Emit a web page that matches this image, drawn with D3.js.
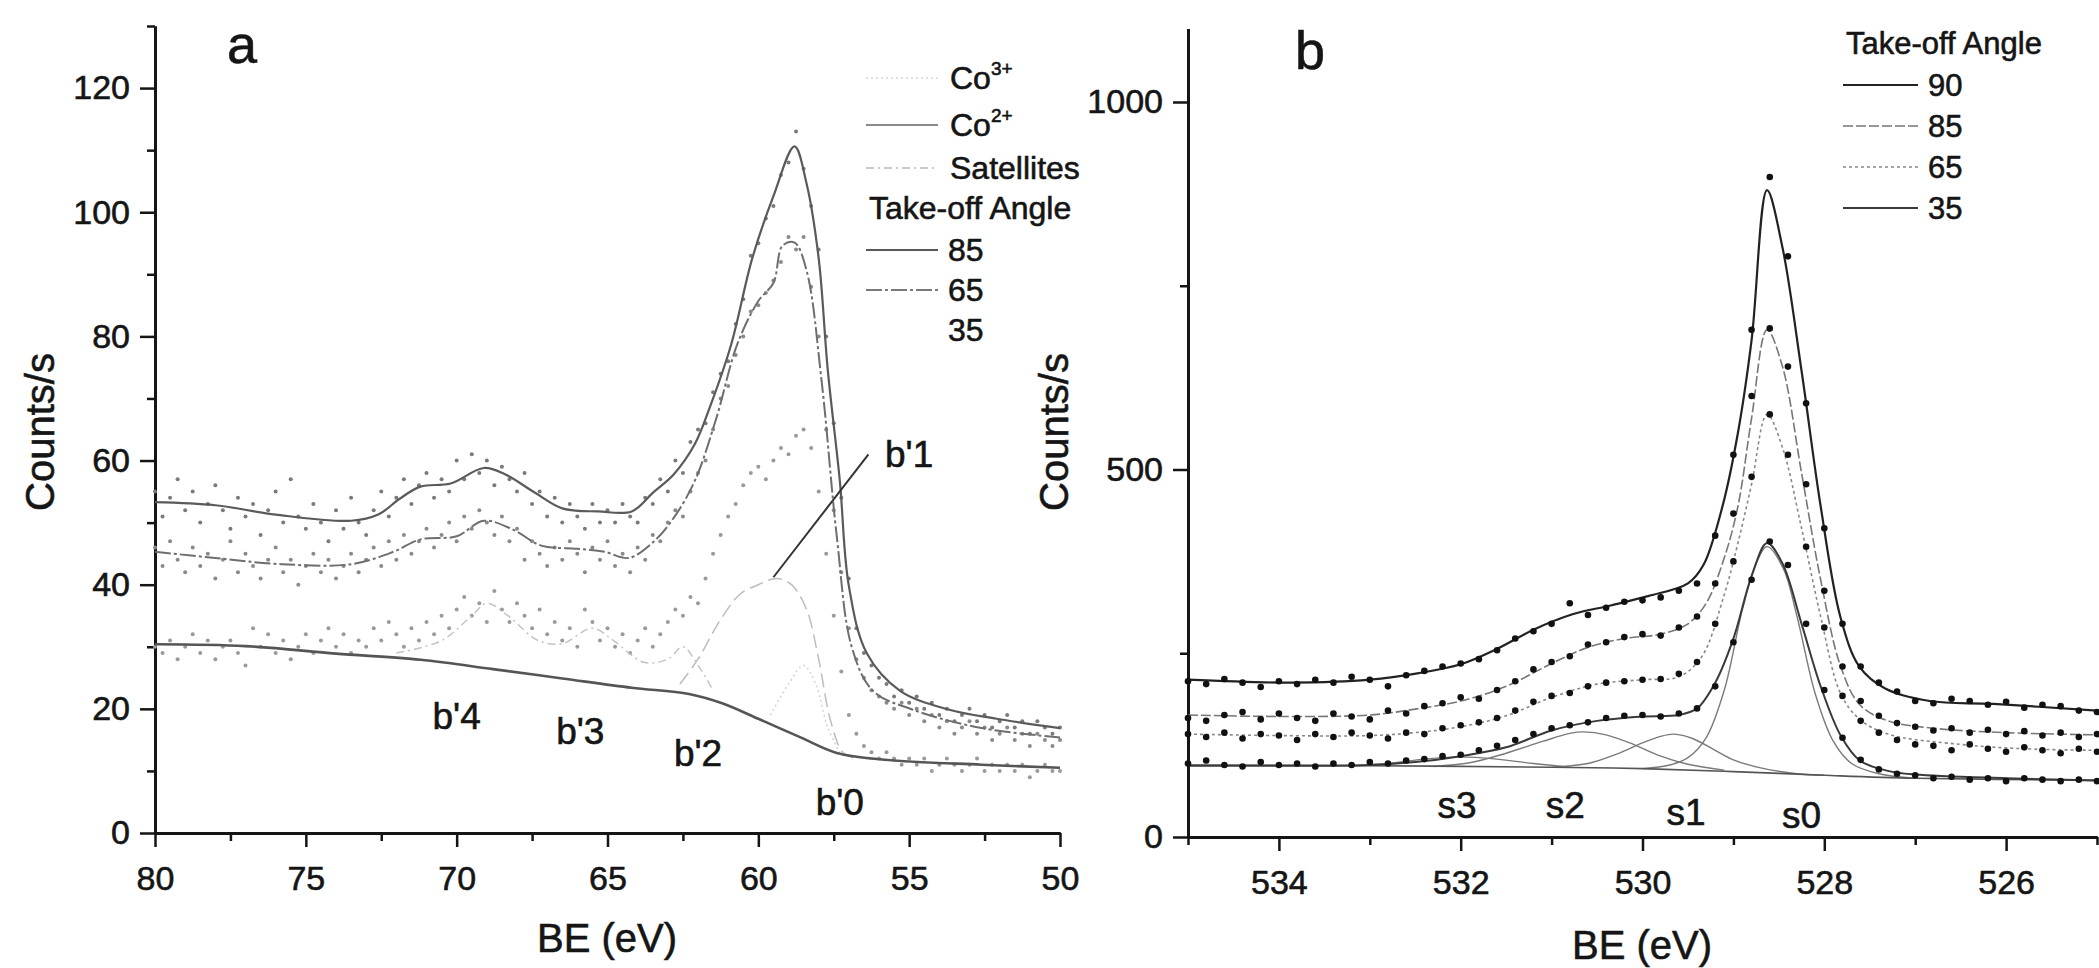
<!DOCTYPE html>
<html>
<head>
<meta charset="utf-8">
<script src="https://cdn.jsdelivr.net/npm/d3@7"></script>
<style>
  body { margin: 0; background: #fff; }
  svg { font-family: "Liberation Sans", Arial, sans-serif; }
  svg text { stroke: #151515; stroke-width: 0.6px; }
</style>
</head>
<body>
<svg id="chart" width="2099" height="968"></svg>
<script>
// ---------- panel a : Co 3p region ----------
const BE_A = [80,79.75,79.5,79.25,79,78.75,78.5,78.25,78,77.75,77.5,77.25,77,76.75,76.5,76.25,76,75.75,75.5,75.25,
  75,74.75,74.5,74.25,74,73.75,73.5,73.25,73,72.75,72.5,72.25,72,71.75,71.5,71.25,71,70.75,70.5,70.25,
  70,69.75,69.5,69.25,69,68.75,68.5,68.25,68,67.75,67.5,67.25,67,66.75,66.5,66.25,66,65.75,65.5,65.25,
  65,64.75,64.5,64.25,64,63.75,63.5,63.25,63,62.75,62.5,62.25,62,61.75,61.5,61.25,61,60.75,60.5,60.25,
  60,59.75,59.5,59.25,59,58.75,58.5,58.25,58,57.75,57.5,57.25,57,56.75,56.5,56.25,56,55.75,55.5,55.25,
  55,54.75,54.5,54.25,54,53.75,53.5,53.25,53,52.75,52.5,52.25,52,51.75,51.5,51.25,51,50.75,50.5,50.25,50];

const DOTS_A85 = [55,51,54,57,52,55,50,53,56,52,49,54,51,53,48,52,55,50,57,51,
  49,53,50,47,52,49,54,50,48,52,55,51,54,57,53,56,58,54,57,55,
  60,57,61,58,60,56,59,57,55,58,53,55,51,54,50,53,51,49,53,50,
  52,50,53,51,50,54,53,57,55,60,58,63,65,66,71,74,76,82,86,93,
  95,99,101,106,108,113,107,101,94,80,66,54,41,33,29,27,25,24,22,23,
  21,22,20,21,19,20,18,19,20,18,19,17,18,19,17,18,16,18,17,16,17];

const DOTS_A65 = [46,43,47,44,42,46,43,45,41,44,47,42,45,43,41,44,46,42,44,40,
  43,45,42,44,41,43,45,42,44,46,43,47,44,48,45,47,49,46,48,50,
  47,51,49,52,50,48,51,47,49,44,47,45,43,46,44,47,45,42,46,44,
  47,43,45,42,46,44,48,47,50,52,51,55,58,60,65,70,72,77,80,84,
  85,87,89,92,96,94,96,88,80,65,52,42,33,28,25,23,22,21,20,21,
  19,20,18,19,17,18,16,17,18,16,17,15,16,17,15,16,14,16,15,14,15];

const DOTS_A35 = [30,29,31,28,30,32,29,31,28,30,31,29,27,33,30,32,29,31,28,30,
  32,29,31,33,30,32,29,31,30,33,31,34,32,30,33,31,34,32,35,33,
  36,38,35,37,34,39,36,34,37,35,33,36,32,34,31,33,30,36,34,31,
  33,30,32,29,31,33,30,32,34,36,35,38,37,41,45,48,51,53,56,58,
  59,57,60,62,61,64,65,62,55,45,35,26,19,16,14,13,12,13,12,11,
  12,11,12,10,11,12,11,10,11,12,10,11,10,11,10,11,9,10,11,10,10];

const FIT_A85 = [[80,53.3],[78,52.8],[76,51.3],[73.5,50.3],[72.6,51.3],[71.9,53.8],[71.2,55.8],[70.2,56.3],
  [69.1,58.8],[68.4,57.8],[67.4,54.8],[66.5,52.3],[65.3,51.8],[64.2,51.8],[63.5,54.8],[62.8,57.8],
  [62.1,62.7],[61.6,68.7],[60.9,78.7],[60.2,92.6],[59.5,102.6],[58.8,110.6],[58.4,104.6],[58.0,92.6],
  [57.7,74.7],[57.3,56.8],[57.0,39.8],[56.4,28.9],[55.3,22.9],[53.7,19.9],[52.1,18.4],[50,16.9]];

const FIT_A65 = [[80,45.3],[78,44.3],[75.8,43.3],[73.5,43.3],[72.1,45.3],[71.2,47.3],[70,47.8],[69.1,50.3],
  [68.1,48.8],[67.2,46.3],[66,45.8],[65.1,45.3],[64.3,44.3],[63.5,46.8],[62.8,50.8],[62.1,56.8],
  [61.4,66.7],[60.7,78.7],[60,85.7],[59.5,88.6],[59.2,94.6],[58.8,95.1],[58.4,90.6],[57.9,72.7],
  [57.4,47.8],[56.9,29.9],[56.2,22.9],[54.9,19.9],[52.6,16.9],[50,15.4]];

const BG_A = [[80,30.4],[77,30.1],[74,28.9],[71.2,27.9],[68.8,26.4],[66.5,24.9],[64.2,23.4],[62.3,22.4],
  [61.2,20.9],[60,18.4],[58.6,15.4],[57.4,12.9],[55.8,11.8],[52.6,11],[50,10.5]];

// faint components of the 35 deg fit
const CO2_A = [[62.6,24],[62,28],[61.3,34],[60.6,38.5],[60,40],[59.4,41],[58.9,40],[58.4,36],[58,28],[57.6,18],[57.2,13],[56.8,12]];
const CO3_A = [[59.6,19],[59,24],[58.5,27],[58.1,24],[57.7,17],[57.3,13]];
const SAT_A = [[72,29],[70.5,31],[69.5,35],[69,37],[68.3,35],[67.3,31],[66.5,30.5],[65.5,33],[64.8,31],
  [63.8,27.5],[63,28],[62.5,30],[62,27],[61.5,23]];

const PEAKS_A = [["b'4",70.0,18.8],["b'3",65.9,16.4],["b'2",62.0,12.9],["b'0",57.3,5.0],["b'1",55.0,61.0]];
const POINTER_A = [[59.5,41.2],[56.35,61.0]];

const TICKS_AX = [80,75,70,65,60,55,50];
const MINOR_AX = [77.5,72.5,67.5,62.5,57.5,52.5];
const TICKS_AY = [0,20,40,60,80,100,120];
const MINOR_AY = [10,30,50,70,90,110,130];

// ---------- panel b : O 1s region ----------
const BE_B = [535,534.8,534.6,534.4,534.2,534,533.8,533.6,533.4,533.2,
  533,532.8,532.6,532.4,532.2,532,531.8,531.6,531.4,531.2,
  531,530.8,530.6,530.4,530.2,530,529.8,529.6,529.4,529.2,
  529,528.8,528.6,528.4,528.2,528,527.8,527.6,527.4,527.2,
  527,526.8,526.6,526.4,526.2,526,525.8,525.6,525.4,525.2,525];

const DOTS_B90 = [212,208,215,210,204,212,208,214,210,218,
  214,205,220,226,232,236,242,254,270,280,
  290,318,302,312,320,322,326,335,345,410,
  520,690,898,790,590,420,290,232,210,198,
  185,182,188,185,180,184,176,180,178,172,170];

const DOTS_B85 = [162,158,166,170,160,168,162,158,168,164,
  160,172,168,178,182,190,188,200,212,228,
  238,246,262,265,272,276,274,285,300,345,
  440,600,692,640,480,335,232,185,165,155,
  150,145,148,142,146,140,144,138,142,136,140];

const DOTS_B65 = [140,136,142,134,140,138,132,140,136,142,
  138,134,142,140,148,152,156,162,172,184,
  192,196,205,210,212,214,215,222,238,290,
  375,490,575,520,395,285,192,158,142,132,
  126,124,118,126,120,116,122,118,114,120,116];

const DOTS_B35 = [100,104,98,96,102,98,100,96,100,98,
  102,100,104,106,110,112,118,124,132,140,
  148,152,156,162,165,166,164,168,175,205,
  265,350,402,370,290,200,135,105,92,86,
  84,80,82,78,80,76,80,78,76,78,76];

const FIT_B90 = [[535,214],[533.86,210],[533,214],[532.46,223],[532,235],[531.6,256],[531.2,282],[530.77,303],
  [530.35,315],[529.93,328],[529.5,345],[529.33,370],[529.12,450],[528.95,550],[528.8,676],[528.63,880],
  [528.46,802],[528.25,634],[528.04,450],[527.82,298],[527.61,231],[527.33,202],[526.84,185],[526.14,181],[525,172]];
const FIT_B85 = [[535,166],[534,164],[533,166],[532.5,174],[532,185],[531.5,205],[531,236],[530.6,258],
  [530.2,270],[529.8,276],[529.5,290],[529.3,318],[529.1,380],[528.95,450],[528.8,570],[528.63,690],
  [528.46,640],[528.25,495],[528.04,350],[527.82,232],[527.61,180],[527.3,158],[526.8,148],[526,142],[525,139]];
const FIT_B65 = [[535,140],[534,138],[533,138],[532.5,142],[532,150],[531.5,165],[531,190],[530.5,208],
  [530,214],[529.6,218],[529.35,245],[529.1,330],[528.95,400],[528.8,480],[528.63,575],[528.46,530],
  [528.25,420],[528.04,300],[527.82,195],[527.61,160],[527.3,140],[526.5,126],[525.8,120],[525,118]];
const FIT_B35 = [[535,97],[534,97],[533,98],[532.5,102],[532,110],[531.5,122],[531,145],[530.5,158],
  [530,164],[529.6,166],[529.4,175],[529.2,210],[529,270],[528.8,355],[528.63,400],[528.46,372],
  [528.25,290],[528.04,205],[527.82,138],[527.61,104],[527.3,90],[527,85],[526,80],[525,77]];

const BG_B = [[535,98],[533,97],[531,95],[530,93],[529,89],[528,84],[527,80],[525,77]];
const S0_B = [[530,93],[529.7,98],[529.5,108],[529.3,135],[529.1,200],[528.9,310],[528.75,372],[528.63,395],
  [528.45,365],[528.3,300],[528.1,195],[527.9,130],[527.7,100],[527.4,86],[527,80]];
const S1_B = [[531,95],[530.6,100],[530.3,112],[530,128],[529.8,137],[529.65,140],[529.45,134],[529.2,118],
  [529,105],[528.7,94],[528.3,86],[528,84]];
const S2_B = [[532.3,96],[531.9,101],[531.5,114],[531.1,130],[530.8,141],[530.65,143],[530.4,139],[530.1,126],
  [529.8,110],[529.5,99],[529.1,91]];
const S3_B = [[533.2,97],[532.8,100],[532.4,106],[532,109],[531.6,106],[531.2,100],[530.8,95]];

const PEAKS_B = [["s3",532.04,43],["s2",530.85,43],["s1",529.52,34],["s0",528.25,30]];

const TICKS_BX = [534,532,530,528,526];
const MINOR_BX = [535,533,531,529,527,525];
const TICKS_BY = [0,500,1000];
const MINOR_BY = [250,750];

const ANGLES_A = ["85","65","35"];
const ANGLES_B = ["90","85","65","35"];

// ---------- drawing ----------
const svg = d3.select('#chart');
const ink = '#151515';

const xA = d3.scaleLinear().domain([80, 50]).range([155, 1060]);
const yA = d3.scaleLinear().domain([0, 130]).range([833, 26]);
const xB = d3.scaleLinear().domain([535, 525]).range([1188, 2097]);
const yB = d3.scaleLinear().domain([0, 1100]).range([837, 28.5]);

// axes with major + minor ticks, all pointing outward
function drawAxes(x, y, o) {
  const gx = svg.append('g').attr('transform', `translate(0,${y.range()[0]})`);
  gx.call(d3.axisBottom(x).tickValues(o.xMajor).tickSize(14).tickSizeOuter(0).tickPadding(19).tickFormat(d3.format('d')));
  const gxm = svg.append('g').attr('transform', `translate(0,${y.range()[0]})`);
  gxm.call(d3.axisBottom(x).tickValues(o.xMinor).tickSize(8).tickSizeOuter(0).tickFormat(''));

  const gy = svg.append('g').attr('transform', `translate(${x.range()[0]},0)`);
  gy.call(d3.axisLeft(y).tickValues(o.yMajor).tickSize(15).tickSizeOuter(0).tickPadding(10).tickFormat(d3.format('d')));
  const gym = svg.append('g').attr('transform', `translate(${x.range()[0]},0)`);
  gym.call(d3.axisLeft(y).tickValues(o.yMinor).tickSize(8).tickSizeOuter(0).tickFormat(''));

  [gx, gxm, gy, gym].forEach(g => {
    g.select('.domain').attr('stroke', ink).attr('stroke-width', 3);
    g.selectAll('.tick line').attr('stroke', ink).attr('stroke-width', 2.5);
    g.selectAll('.tick text').attr('fill', ink).style('font-size', '34px');
  });
}

drawAxes(xA, yA, {xMajor: TICKS_AX, xMinor: MINOR_AX, yMajor: TICKS_AY, yMinor: MINOR_AY});
drawAxes(xB, yB, {xMajor: TICKS_BX, xMinor: MINOR_BX, yMajor: TICKS_BY, yMinor: MINOR_BY});

// axis titles and panel letters
function label(txt, x, y, size, rot) {
  return svg.append('text')
    .attr('transform', `translate(${x},${y})` + (rot ? ` rotate(${rot})` : ''))
    .attr('text-anchor', 'middle').attr('dy', '0.35em')
    .style('font-size', size + 'px').attr('fill', ink).text(txt);
}
label('BE (eV)', 607, 938, 40);
label('BE (eV)', 1642, 945, 40);
label('Counts/s', 40, 432, 40, -90);
label('Counts/s', 1054, 432, 40, -90);
label('a', 242, 44, 54);
label('b', 1310, 50, 54);

// ---- panel a marks ----
const lineA = d3.line().x(d => xA(d[0])).y(d => yA(d[1])).curve(d3.curveCatmullRom.alpha(0.5));
const gA = svg.append('g');

function dotsA(vals, color) {
  gA.append('g').selectAll('circle')
    .data(vals.map((v, i) => [BE_A[i], v]))
    .join('circle')
      .attr('cx', d => xA(d[0]))
      .attr('cy', d => yA(d[1]))
      .attr('r', 2)
      .attr('fill', color);
}
dotsA(DOTS_A35, '#9a9a9a');
dotsA(DOTS_A65, '#8a8a8a');
dotsA(DOTS_A85, '#7a7a7a');

gA.append('path').attr('d', lineA(SAT_A)).attr('fill', 'none')
  .attr('stroke', '#c4c4c4').attr('stroke-width', 1.5).attr('stroke-dasharray', '8,4,2,4');
gA.append('path').attr('d', lineA(CO3_A)).attr('fill', 'none')
  .attr('stroke', '#d4d4d4').attr('stroke-width', 1.5).attr('stroke-dasharray', '2,3');
gA.append('path').attr('d', lineA(CO2_A)).attr('fill', 'none')
  .attr('stroke', '#bdbdbd').attr('stroke-width', 1.5).attr('stroke-dasharray', '14,6');
gA.append('path').attr('d', lineA(BG_A)).attr('fill', 'none')
  .attr('stroke', '#555').attr('stroke-width', 2.6);
gA.append('path').attr('d', lineA(FIT_A65)).attr('fill', 'none')
  .attr('stroke', '#6e6e6e').attr('stroke-width', 2).attr('stroke-dasharray', '16,3,3,3');
gA.append('path').attr('d', lineA(FIT_A85)).attr('fill', 'none')
  .attr('stroke', '#5a5a5a').attr('stroke-width', 2.2);

gA.append('line')
  .attr('x1', xA(POINTER_A[0][0])).attr('y1', yA(POINTER_A[0][1]))
  .attr('x2', xA(POINTER_A[1][0])).attr('y2', yA(POINTER_A[1][1]))
  .attr('stroke', '#333').attr('stroke-width', 2);

gA.selectAll('text.peak').data(PEAKS_A).join('text')
  .attr('class', 'peak')
  .attr('x', d => xA(d[1])).attr('y', d => yA(d[2]))
  .attr('text-anchor', 'middle').attr('dy', '0.35em')
  .style('font-size', '37px').attr('fill', ink)
  .text(d => d[0]);

// legend a
const legA = svg.append('g').style('font-size', '32px').attr('fill', ink);
const compRows = [
  {sup: '3+', y: 78, stroke: '#d6d6d6', dash: '2,3', w: 1.5},
  {sup: '2+', y: 125, stroke: '#8a8a8a', dash: null, w: 1.8},
  {sup: null, y: 168, stroke: '#bbbbbb', dash: '8,4,2,4', w: 1.5}
];
compRows.forEach(r => {
  legA.append('line').attr('x1', 866).attr('x2', 938).attr('y1', r.y).attr('y2', r.y)
    .attr('stroke', r.stroke).attr('stroke-width', r.w).attr('stroke-dasharray', r.dash);
  const t = legA.append('text').attr('x', 950).attr('y', r.y).attr('dy', '0.35em');
  if (r.sup) {
    t.append('tspan').text('Co');
    t.append('tspan').attr('dy', '-0.75em').style('font-size', '19px').text(r.sup);
  } else {
    t.text('Satellites');
  }
});
legA.append('text').attr('x', 869).attr('y', 208).attr('dy', '0.35em').text('Take-off Angle');
const angleStyleA = [
  {stroke: '#5a5a5a', dash: null, w: 2.2},
  {stroke: '#7a7a7a', dash: '16,3,3,3', w: 2},
  {stroke: 'none', dash: null, w: 0}
];
ANGLES_A.forEach((a, i) => {
  const y = 250 + i * 40;
  legA.append('line').attr('x1', 866).attr('x2', 938).attr('y1', y).attr('y2', y)
    .attr('stroke', angleStyleA[i].stroke).attr('stroke-width', angleStyleA[i].w)
    .attr('stroke-dasharray', angleStyleA[i].dash);
  legA.append('text').attr('x', 948).attr('y', y).attr('dy', '0.35em').text(a);
});

// ---- panel b marks ----
const lineB = d3.line().x(d => xB(d[0])).y(d => yB(d[1])).curve(d3.curveCatmullRom.alpha(0.5));
const gB = svg.append('g');

[S3_B, S2_B, S1_B, S0_B].forEach(s => {
  gB.append('path').attr('d', lineB(s)).attr('fill', 'none')
    .attr('stroke', '#7a7a7a').attr('stroke-width', 1.4);
});
gB.append('path').attr('d', lineB(BG_B)).attr('fill', 'none')
  .attr('stroke', '#555').attr('stroke-width', 1.6);

const fitStyleB = [
  {data: FIT_B90, stroke: '#222', w: 2.2, dash: null},
  {data: FIT_B85, stroke: '#777', w: 1.6, dash: '10,3'},
  {data: FIT_B65, stroke: '#888', w: 1.6, dash: '3,3'},
  {data: FIT_B35, stroke: '#3a3a3a', w: 2, dash: null}
];
fitStyleB.forEach(f => {
  gB.append('path').attr('d', lineB(f.data)).attr('fill', 'none')
    .attr('stroke', f.stroke).attr('stroke-width', f.w).attr('stroke-dasharray', f.dash);
});

[DOTS_B90, DOTS_B85, DOTS_B65, DOTS_B35].forEach(vals => {
  gB.append('g').selectAll('circle')
    .data(vals.map((v, i) => [BE_B[i], v]))
    .join('circle')
      .attr('cx', d => xB(d[0]))
      .attr('cy', d => yB(d[1]))
      .attr('r', 3.3)
      .attr('fill', '#111');
});

gB.selectAll('text.peak').data(PEAKS_B).join('text')
  .attr('class', 'peak')
  .attr('x', d => xB(d[1])).attr('y', d => yB(d[2]))
  .attr('text-anchor', 'middle').attr('dy', '0.35em')
  .style('font-size', '37px').attr('fill', ink)
  .text(d => d[0]);

// legend b
const legB = svg.append('g').style('font-size', '31px').attr('fill', ink);
legB.append('text').attr('x', 1846).attr('y', 43).attr('dy', '0.35em').text('Take-off Angle');
ANGLES_B.forEach((a, i) => {
  const y = 85 + i * 41;
  const f = fitStyleB[i];
  legB.append('line').attr('x1', 1843).attr('x2', 1918).attr('y1', y).attr('y2', y)
    .attr('stroke', f.stroke).attr('stroke-width', f.w).attr('stroke-dasharray', f.dash);
  legB.append('text').attr('x', 1928).attr('y', y).attr('dy', '0.35em').text(a);
});
</script>
</body>
</html>
